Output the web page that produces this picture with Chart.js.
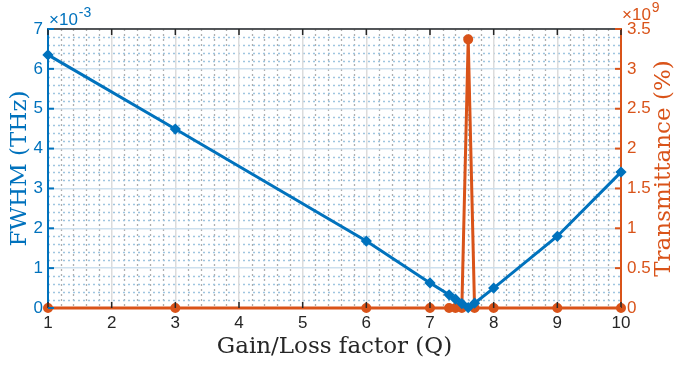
<!DOCTYPE html>
<html>
<head>
<meta charset="utf-8">
<script src="https://cdn.jsdelivr.net/npm/chart.js@4.4.1/dist/chart.umd.min.js"></script>
<style>
  html, body { margin: 0; padding: 0; background: #fff; }
  #wrap { width: 685px; height: 365px; position: relative; }
</style>
</head>
<body>
<div id="wrap"><canvas id="fwhmChart"></canvas></div>
<script>
// Gain/Loss factor values (x axis)
const gainLoss = [1, 3, 6, 7, 7.3, 7.4, 7.5, 7.6, 7.7, 8, 9, 10];
// FWHM in units of 1e-3 THz (left axis)
const fwhm = [6.35, 4.49, 1.68, 0.63, 0.33, 0.22, 0.11, 0.01, 0.12, 0.5, 1.8, 3.41];
// Transmittance in units of 1e9 % (right axis)
const transmittance = [0, 0, 0, 0, 0, 0, 0, 3.37, 0, 0, 0, 0];

const xTicks = [1, 2, 3, 4, 5, 6, 7, 8, 9, 10];
const leftTicks = [0, 1, 2, 3, 4, 5, 6, 7];
const rightTicks = [0, 0.5, 1, 1.5, 2, 2.5, 3, 3.5];

const BLUE = '#0072BD';
const ORANGE = '#D95319';
const DARK = '#262626';
const tickFont = { family: 'Liberation Sans', size: 17 };
const titleFont = '23px "DejaVu Serif"';

const framePlugin = {
    id: 'frame',
    beforeDraw(chart) {
        const { ctx, chartArea: a } = chart;
        const x = chart.scales.x, y = chart.scales.y;
        ctx.save();
        ctx.lineWidth = 1.3;
        // minor vertical grid (dotted gray)
        ctx.strokeStyle = '#aeaeae';
        ctx.setLineDash([2, 3]);
        for (let v = 1; v < 10; v += 0.2) {
            if (Math.abs(v - Math.round(v)) < 0.01) continue;
            const px = Math.round(x.getPixelForValue(v)) + 0.5;
            ctx.beginPath(); ctx.moveTo(px, a.top); ctx.lineTo(px, a.bottom); ctx.stroke();
        }
        // minor horizontal grid (dotted light blue)
        ctx.strokeStyle = '#9fc5e0';
        for (let v = 0.2; v < 7; v += 0.2) {
            if (Math.abs(v - Math.round(v)) < 0.01) continue;
            const py = Math.round(y.getPixelForValue(v)) + 0.5;
            ctx.beginPath(); ctx.moveTo(a.left, py); ctx.lineTo(a.right, py); ctx.stroke();
        }
        ctx.restore();
    },
    afterDatasetsDraw(chart) {
        const { ctx, chartArea: a } = chart;
        const x = chart.scales.x, y = chart.scales.y, y1 = chart.scales.y1;
        ctx.save();
        // top box line
        ctx.strokeStyle = DARK;
        ctx.lineWidth = 1.5;
        ctx.beginPath(); ctx.moveTo(a.left, a.top); ctx.lineTo(a.right, a.top); ctx.stroke();
        // inside tick marks
        xTicks.forEach(function(v) {
            const px = x.getPixelForValue(v);
            ctx.beginPath();
            ctx.moveTo(px, a.bottom); ctx.lineTo(px, a.bottom - 6);
            ctx.moveTo(px, a.top); ctx.lineTo(px, a.top + 6);
            ctx.stroke();
        });
        ctx.strokeStyle = BLUE;
        ctx.lineWidth = 2;
        leftTicks.forEach(function(v) {
            const py = y.getPixelForValue(v);
            ctx.beginPath(); ctx.moveTo(a.left, py); ctx.lineTo(a.left + 6, py); ctx.stroke();
        });
        ctx.strokeStyle = ORANGE;
        rightTicks.forEach(function(v) {
            const py = y1.getPixelForValue(v);
            ctx.beginPath(); ctx.moveTo(a.right, py); ctx.lineTo(a.right - 6, py); ctx.stroke();
        });

        // exponent labels
        ctx.textBaseline = 'alphabetic';
        ctx.textAlign = 'left';
        ctx.fillStyle = BLUE;
        ctx.font = '17px "Liberation Sans"';
        ctx.fillText('\u00d710', a.left + 1, a.top - 4);
        let w = ctx.measureText('\u00d710').width;
        ctx.font = '14px "Liberation Sans"';
        ctx.fillText('-3', a.left + 2 + w, a.top - 12);

        ctx.fillStyle = ORANGE;
        ctx.font = '17px "Liberation Sans"';
        ctx.fillText('\u00d710', a.right + 1, a.top - 9);
        w = ctx.measureText('\u00d710').width;
        ctx.font = '14px "Liberation Sans"';
        ctx.fillText('9', a.right + 2 + w, a.top - 17);

        // axis titles (serif, like LaTeX)
        ctx.font = titleFont;
        ctx.textAlign = 'center';
        ctx.textBaseline = 'middle';
        ctx.fillStyle = DARK;
        ctx.fillText('Gain/Loss factor (Q)', (a.left + a.right) / 2, 347);

        const midY = (a.top + a.bottom) / 2;
        ctx.fillStyle = BLUE;
        ctx.save();
        ctx.translate(20, midY);
        ctx.rotate(-Math.PI / 2);
        ctx.fillText('FWHM (THz)', 0, 0);
        ctx.restore();

        ctx.fillStyle = ORANGE;
        ctx.save();
        ctx.translate(664, midY);
        ctx.rotate(-Math.PI / 2);
        ctx.fillText('Transmittance (%)', 0, 0);
        ctx.restore();
        ctx.restore();
    }
};

const ctx = document.getElementById('fwhmChart').getContext('2d');

const data = {
    datasets: [{
        label: 'FWHM',
        data: gainLoss.map(function(g, i) { return { x: g, y: fwhm[i] }; }),
        yAxisID: 'y',
        borderColor: BLUE,
        backgroundColor: BLUE,
        borderWidth: 3,
        showLine: true,
        pointStyle: 'rectRot',
        pointRadius: 3.5,
        clip: false,
        order: 0
    }, {
        label: 'Transmittance',
        data: gainLoss.map(function(g, i) { return { x: g, y: transmittance[i] }; }),
        yAxisID: 'y1',
        borderColor: ORANGE,
        backgroundColor: ORANGE,
        borderWidth: 3,
        showLine: true,
        pointStyle: 'circle',
        pointRadius: 3.5,
        clip: false,
        order: 1
    }]
};

const config = {
    type: 'scatter',
    data: data,
    options: {
        responsive: true,
        maintainAspectRatio: false,
        animation: false,
        layout: { padding: { top: 29, left: 0, right: 0, bottom: 0 } },
        plugins: {
            legend: { display: false },
            tooltip: { enabled: false }
        },
        scales: {
            x: {
                type: 'linear',
                min: 1,
                max: 10,
                afterFit: function(s) { s.height = 57; },
                afterBuildTicks: function(s) { s.ticks = xTicks.map(function(v) { return { value: v }; }); },
                ticks: { color: DARK, font: tickFont, padding: 5, maxRotation: 0 },
                grid: { color: '#dcdcdc', lineWidth: 1.5, drawTicks: false },
                border: { color: DARK, width: 1.5 }
            },
            y: {
                position: 'left',
                min: 0,
                max: 7,
                afterFit: function(s) { s.width = 48; },
                afterBuildTicks: function(s) { s.ticks = leftTicks.map(function(v) { return { value: v }; }); },
                ticks: { color: BLUE, font: tickFont, padding: 5 },
                grid: { color: '#cde0ee', lineWidth: 1.5, drawTicks: false },
                border: { color: BLUE, width: 2 }
            },
            y1: {
                position: 'right',
                min: 0,
                max: 3.5,
                afterFit: function(s) { s.width = 64; },
                afterBuildTicks: function(s) { s.ticks = rightTicks.map(function(v) { return { value: v }; }); },
                ticks: {
                    color: ORANGE,
                    font: tickFont,
                    padding: 6,
                    callback: function(v) { return String(v); }
                },
                grid: { display: false, drawTicks: false },
                border: { color: ORANGE, width: 2 }
            }
        }
    },
    plugins: [framePlugin]
};

try {
    new Chart(ctx, config);
} catch (error) {
    console.error("Error creating chart:", error);
}
</script>
</body>
</html>
